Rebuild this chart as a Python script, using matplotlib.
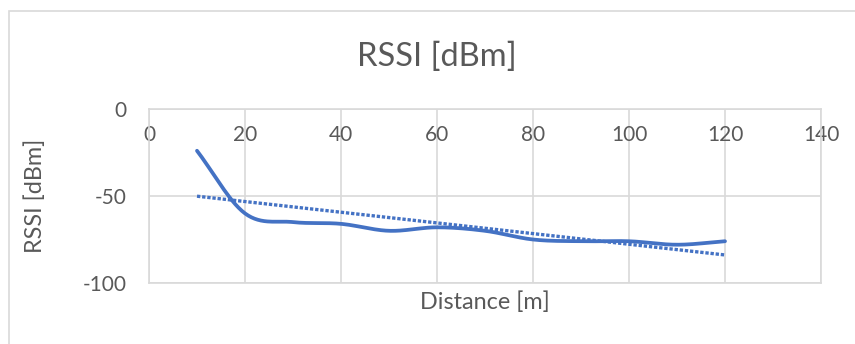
import numpy as np
import matplotlib
matplotlib.use("Agg")
import matplotlib.pyplot as plt
from matplotlib.patches import Rectangle

distance = [10, 20, 30, 40, 50, 60, 70, 80, 90, 100, 110, 120]
rssi = [-24, -60, -65, -66, -70, -68, -70, -75, -76, -76, -78, -76]
x_ticks = [0, 20, 40, 60, 80, 100, 120, 140]
y_ticks = [0, -50, -100]

W, H = 855, 344
plt.rcParams['font.family'] = ['Lato', 'DejaVu Sans']
plt.rcParams['axes.unicode_minus'] = False
fig = plt.figure(figsize=(W / 100, H / 100), dpi=100)

# chart-area border (runs off right and bottom edges)
fig.patches.append(Rectangle((9 / W, -0.1), 1.2, 1 - 11 / H + 0.1, transform=fig.transFigure,
                             fill=False, edgecolor='#d9d9d9', linewidth=1.2))

L, R, T, B = 149, 821, 109, 283
ax = fig.add_axes([L / W, 1 - B / H, (R - L) / W, (B - T) / H])
ax.set_xlim(0, 140)
ax.set_ylim(-100, 0)

grid_c = '#d9d9d9'
for s in ax.spines.values():
    s.set_color(grid_c)
    s.set_linewidth(1.2)
ax.set_xticks(x_ticks)
ax.set_yticks(y_ticks)
ax.grid(True, color=grid_c, linewidth=1.2)
ax.set_axisbelow(True)

ax.xaxis.tick_top()
ax.tick_params(axis='x', length=0, pad=-26, labelsize=15, labelcolor='#595959')
ax.tick_params(axis='y', length=0, pad=16, labelsize=15, labelcolor='#595959')


def catmull_rom(xs, ys, n=30):
    xs = np.asarray(xs, float)
    ys = np.asarray(ys, float)
    px = np.concatenate([[2 * xs[0] - xs[1]], xs, [2 * xs[-1] - xs[-2]]])
    py = np.concatenate([[2 * ys[0] - ys[1]], ys, [2 * ys[-1] - ys[-2]]])
    ox, oy = [], []
    t = np.linspace(0, 1, n, endpoint=False)
    for i in range(1, len(px) - 2):
        p0, p1, p2, p3 = px[i - 1], px[i], px[i + 1], px[i + 2]
        q0, q1, q2, q3 = py[i - 1], py[i], py[i + 1], py[i + 2]
        c1x, c1y = p1 + (p2 - p0) / 6, q1 + (q2 - q0) / 6
        c2x, c2y = p2 - (p3 - p1) / 6, q2 - (q3 - q1) / 6
        bx = (1 - t) ** 3 * p1 + 3 * (1 - t) ** 2 * t * c1x + 3 * (1 - t) * t ** 2 * c2x + t ** 3 * p2
        by = (1 - t) ** 3 * q1 + 3 * (1 - t) ** 2 * t * c1y + 3 * (1 - t) * t ** 2 * c2y + t ** 3 * q2
        ox.extend(bx)
        oy.extend(by)
    ox.append(xs[-1])
    oy.append(ys[-1])
    return np.array(ox), np.array(oy)


sx, sy = catmull_rom(distance, rssi)
blue = '#4472C4'
ax.plot(sx, sy, color=blue, linewidth=2.7, solid_capstyle='round', clip_on=False, zorder=3)

coef = np.polyfit(distance, rssi, 1)
tx = np.array([distance[0], distance[-1]])
ax.plot(tx, np.polyval(coef, tx), color=blue, linewidth=2.4,
        linestyle=(0, (1.0, 0.55)), dash_capstyle='butt', zorder=2)

fig.text(437 / W, 1 - 57 / H, 'RSSI [dBm]', ha='center', va='center', fontsize=23.5, color='#595959')
fig.text(485 / W, 1 - 302 / H, 'Distance [m]', ha='center', va='center', fontsize=16.8, color='#595959')
fig.text(35 / W, 1 - 196 / H, 'RSSI [dBm]', ha='center', va='center', rotation=90,
         fontsize=16.8, color='#595959')

fig.savefig('out.png', dpi=100)
